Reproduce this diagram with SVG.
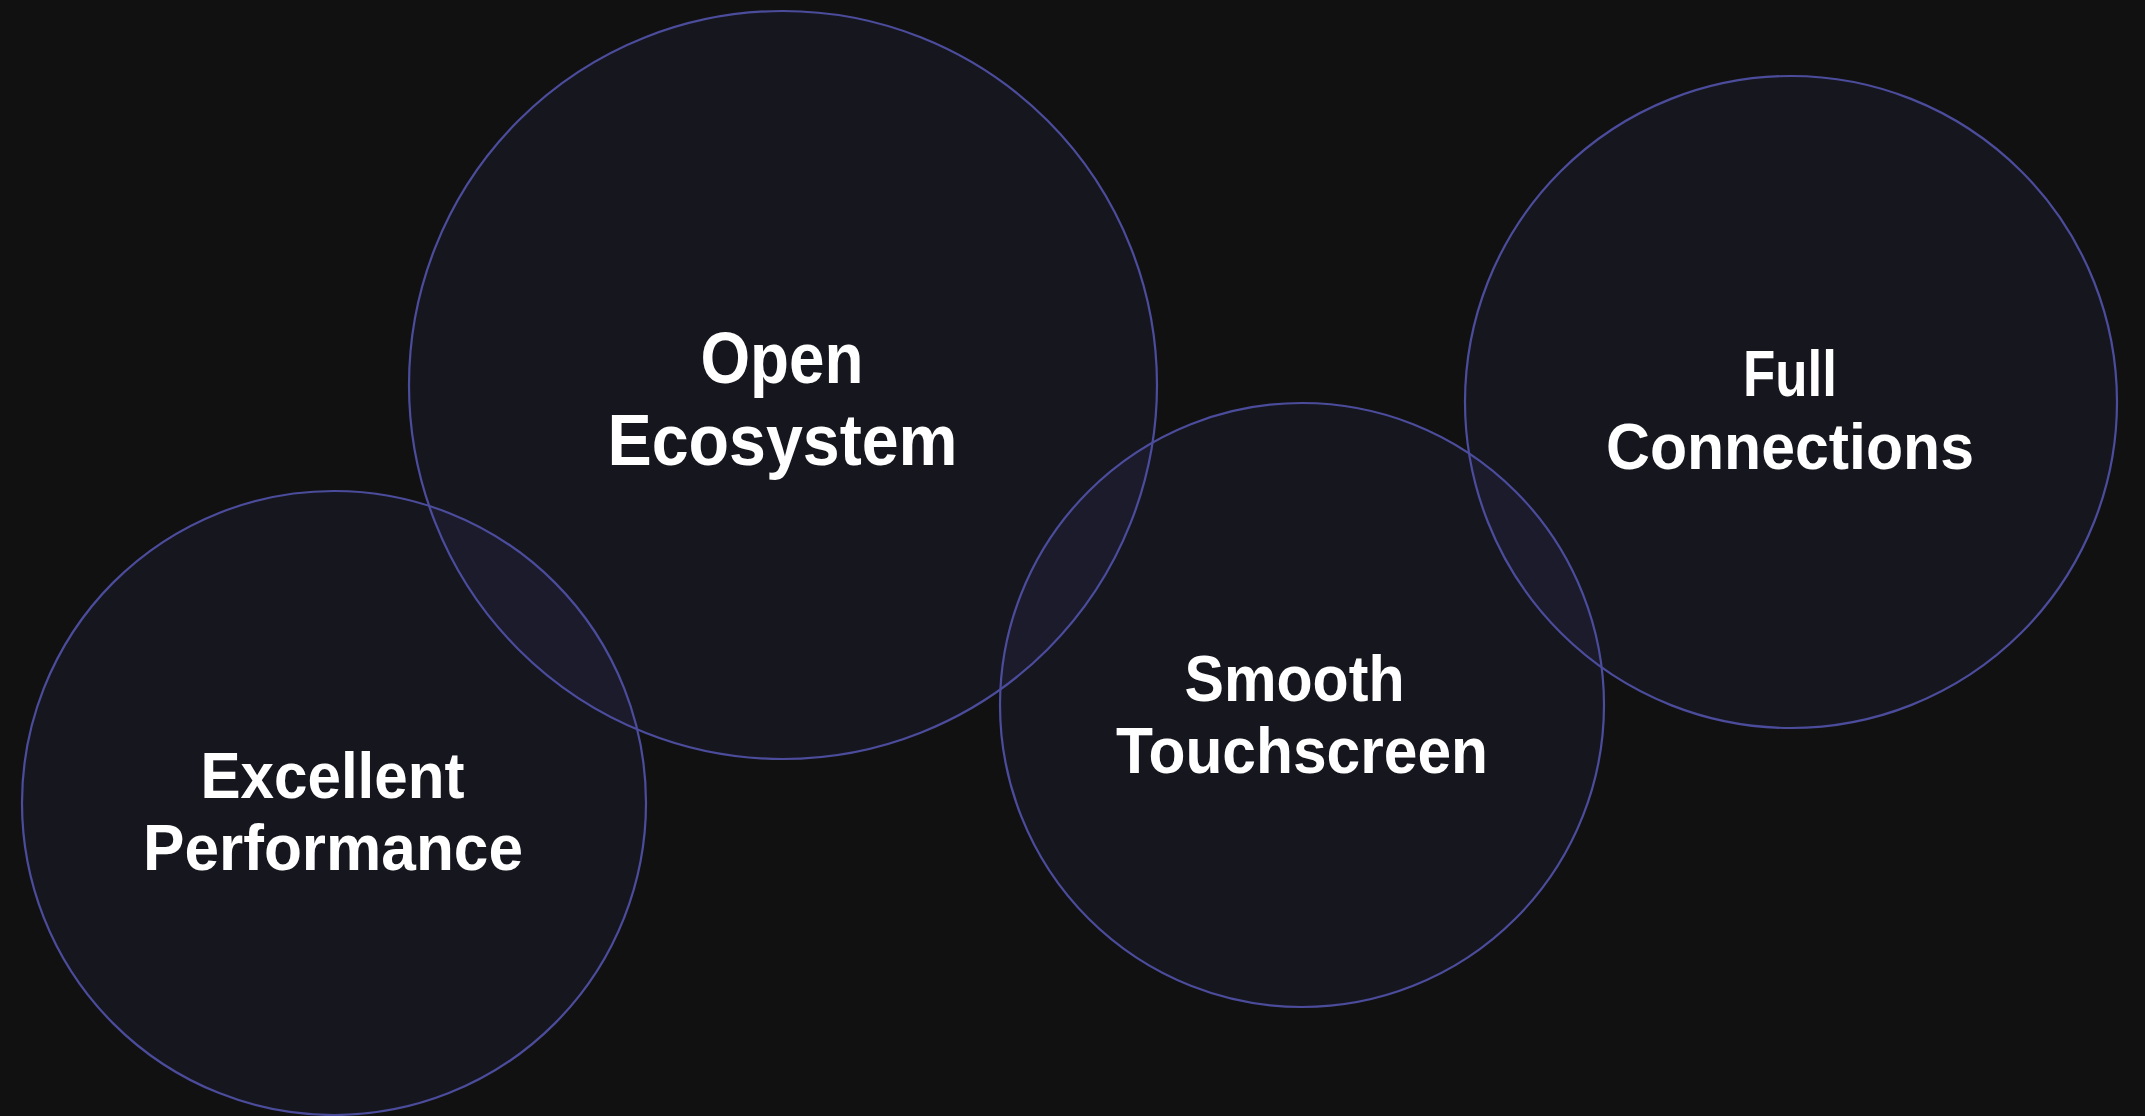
<svg xmlns="http://www.w3.org/2000/svg" width="2145" height="1116" viewBox="0 0 2145 1116">
  <style>
    .bubble { fill: #4a4ab0; fill-opacity: 0.09; stroke: #4c4c9c; stroke-width: 2.2; }
    .label { fill: #ffffff; font-family: "Liberation Sans", Arial, sans-serif; font-weight: 700; text-anchor: middle; }
    .lg { font-size: 72px; }
    .md { font-size: 65px; }
  </style>
  <rect x="0" y="0" width="2145" height="1116" fill="#111111"/>
  <g id="connectors"></g>
  <g id="node-open-ecosystem">
    <circle class="bubble" cx="783" cy="385" r="374"/>
    <text class="label lg" x="782" y="383" textLength="163" lengthAdjust="spacingAndGlyphs">Open</text>
    <text class="label lg" x="782.5" y="465" textLength="350" lengthAdjust="spacingAndGlyphs">Ecosystem</text>
  </g>
  <g id="node-excellent-performance">
    <circle class="bubble" cx="334" cy="803" r="312"/>
    <text class="label md" x="332.5" y="798" textLength="264" lengthAdjust="spacingAndGlyphs">Excellent</text>
    <text class="label md" x="333" y="870" textLength="380" lengthAdjust="spacingAndGlyphs">Performance</text>
  </g>
  <g id="node-smooth-touchscreen">
    <circle class="bubble" cx="1302" cy="705" r="302"/>
    <text class="label md" x="1294.5" y="701" textLength="220" lengthAdjust="spacingAndGlyphs">Smooth</text>
    <text class="label md" x="1302" y="773" textLength="372" lengthAdjust="spacingAndGlyphs">Touchscreen</text>
  </g>
  <g id="node-full-connections">
    <circle class="bubble" cx="1791" cy="402" r="326"/>
    <text class="label md" x="1790" y="396" textLength="94" lengthAdjust="spacingAndGlyphs">Full</text>
    <text class="label md" x="1790" y="469" textLength="368" lengthAdjust="spacingAndGlyphs">Connections</text>
  </g>
</svg>
